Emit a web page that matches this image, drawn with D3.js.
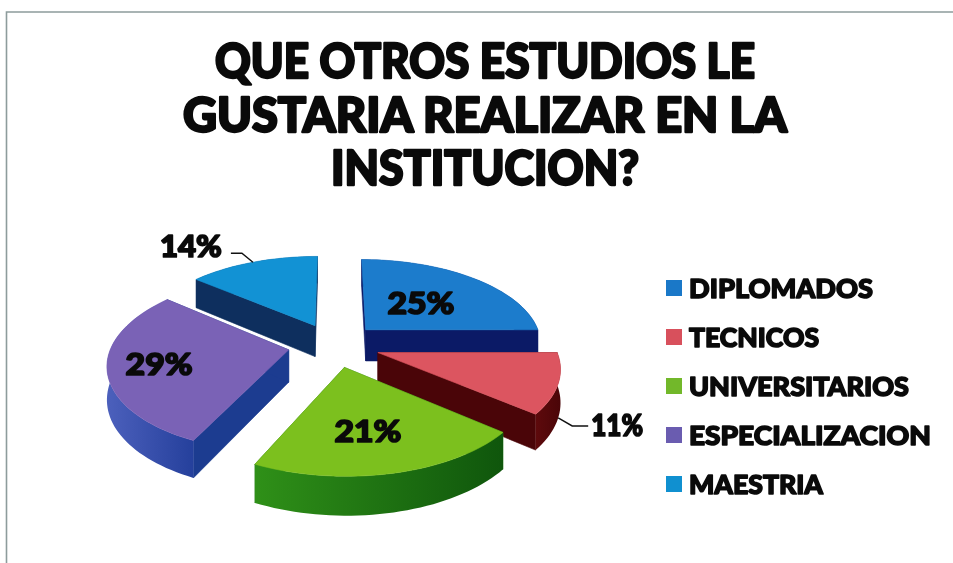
<!DOCTYPE html>
<html>
<head>
<meta charset="utf-8">
<script src="https://cdn.jsdelivr.net/npm/d3@7"></script>
<style>
    html, body { margin: 0; padding: 0; background: #fff; }
    svg { display: block; filter: blur(0.45px); }
    text { font-family: Lato, "Open Sans", sans-serif; font-weight: 900; fill: #0a0a0a; stroke: #0a0a0a; stroke-linejoin: round; }
</style>
</head>
<body>
<script>
const titleLines = ["QUE OTROS ESTUDIOS LE", "GUSTARIA REALIZAR EN LA", "INSTITUCION?"];
const categories = ["DIPLOMADOS", "TECNICOS", "UNIVERSITARIOS", "ESPECIALIZACION", "MAESTRIA"];
const values = [25, 11, 21, 29, 14];
const topColors = ["#1c7ccc", "#dc5560", "#7cc01e", "#7a62b6", "#1292d4"];
const legendColors = ["#1a78c8", "#d8505c", "#72b82a", "#6a5cb0", "#1090d0"];
const cutColors = ["#0b1a66", "#4a0508", "#1f7a14", "#1c3c90", "#0e2f5e"];
const outerFrom = ["#0b1a66", "#5e0a0c", "#2f9018", "#4c60bc", "#0e2f5e"];
const outerTo = ["#0b1a66", "#4a0508", "#0f560c", "#25409c", "#0e2f5e"];

const width = 953, height = 563;
const svg = d3.select("body").append("svg").attr("width", width).attr("height", height);
const defs = svg.append("defs");

// page frame of the scanned sheet: only top and left edges show
svg.append("path")
    .attr("d", "M6.5," + height + "V12H" + width)
    .attr("fill", "none").attr("stroke", "#8d9c9c").attr("stroke-width", 1.6);

function fitText(sel, w) {
    return sel.attr("textLength", w).attr("lengthAdjust", "spacingAndGlyphs");
}

// title
const titleWidths = [540, 604, 308];
const titleY = d3.scalePoint().domain(d3.range(3)).range([78, 185]);
svg.selectAll("text.title").data(titleLines).join("text")
    .attr("class", "title")
    .attr("x", 485).attr("y", (d, i) => titleY(i))
    .attr("text-anchor", "middle")
    .attr("font-size", 47).attr("stroke-width", 2.4)
    .text(d => d)
    .each(function (d, i) { fitText(d3.select(this), titleWidths[i]); });

// pie in plane coordinates, projected with a small perspective
const cx = 334, cy = 345, rx = 177, ry = 85, persp = 0.15, depth = 32, explode = 0.26;
const pieData = d3.pie().sort(null)(values);
const midAngle = d => (d.startAngle + d.endAngle) / 2;

function planePoint(d, angle, r) {
    const m = midAngle(d);
    return [explode * Math.sin(m) + r * Math.sin(angle), -explode * Math.cos(m) - r * Math.cos(angle)];
}
function project(p, z) {
    const s = 1 / (1 - persp * p[1]);
    return [cx + rx * p[0] * s, cy + ry * p[1] * s + z * depth * s];
}

const line = d3.line();

function arcAngles(d) {
    const n = Math.max(8, Math.round((d.endAngle - d.startAngle) * 30));
    return d3.range(n + 1).map(i => d.startAngle + (d.endAngle - d.startAngle) * i / n);
}
function wall(a, b) {
    return line([project(a, 0), project(b, 0), project(b, 1), project(a, 1)]) + "Z";
}

// back slices first so the front ones cover them
const drawOrder = [4, 3, 0, 1, 2];
const slices = svg.selectAll("g.slice").data(drawOrder.map(i => pieData[i])).join("g").attr("class", "slice");

slices.each(function (d) {
    const g = d3.select(this), i = d.index;
    const apex = planePoint(d, 0, 0);
    const rim = arcAngles(d).map(a => planePoint(d, a, 1));
    const rimTop = rim.map(p => project(p, 0));
    const rimBottom = rim.map(p => project(p, 1));

    [rim[0], rim[rim.length - 1]].forEach(p => {
        g.append("path").attr("d", wall(apex, p))
            .attr("fill", cutColors[i]).attr("stroke", cutColors[i]).attr("stroke-width", 0.6);
    });

    // outer wall, lighter on its left end
    const grad = defs.append("linearGradient").attr("id", "outer" + i)
        .attr("gradientUnits", "userSpaceOnUse")
        .attr("x1", d3.min(rimTop, p => p[0])).attr("x2", d3.max(rimTop, p => p[0]))
        .attr("y1", 0).attr("y2", 0);
    grad.append("stop").attr("offset", 0).attr("stop-color", outerFrom[i]);
    grad.append("stop").attr("offset", 1).attr("stop-color", outerTo[i]);
    g.append("path")
        .attr("d", line(rimTop.concat(rimBottom.slice().reverse())) + "Z")
        .attr("fill", "url(#outer" + i + ")");

    g.append("path")
        .attr("d", line([project(apex, 0), ...rimTop]) + "Z")
        .attr("fill", topColors[i]).attr("stroke", topColors[i]).attr("stroke-width", 0.6);
});

// labels sit on their slice, or outside with a leader
const labelRadius = [0.49, null, 0.64, 0.72, null];
const labelWidth = 64;
pieData.forEach((d, i) => {
    if (labelRadius[i] === null) return;
    const pos = project(planePoint(d, midAngle(d), labelRadius[i]), 0);
    svg.append("text").attr("x", pos[0] - (i === 2 ? 6 : 0)).attr("y", pos[1] + 11)
        .attr("text-anchor", "middle").attr("font-size", 30).attr("stroke-width", 1.7)
        .text(values[i] + "%").call(fitText, labelWidth + 3);
});

const rimMaeStart = project(planePoint(pieData[4], midAngle(pieData[4]), 1), 0);
const rimTecStart = project(planePoint(pieData[1], midAngle(pieData[1]), 1), 1);
const leaders = [
    { from: rimMaeStart, dx: [-11, -22], dy: [-9, -9], label: 4, tx: -31, ty: -5, anchor: "end", w: labelWidth - 2 },
    { from: rimTecStart, dx: [14, 30], dy: [8, 8], label: 1, tx: 33, ty: 18, anchor: "start", w: labelWidth - 12 }
];
leaders.forEach(l => {
    const pts = [l.from,
        [l.from[0] + l.dx[0], l.from[1] + l.dy[0]],
        [l.from[0] + l.dx[1], l.from[1] + l.dy[1]]];
    svg.append("path").attr("d", line(pts)).attr("fill", "none").attr("stroke", "#111").attr("stroke-width", 1.4);
    svg.append("text").attr("x", l.from[0] + l.tx).attr("y", l.from[1] + l.ty)
        .attr("text-anchor", l.anchor).attr("font-size", 30).attr("stroke-width", 1.7)
        .text(values[l.label] + "%").call(fitText, l.w);
});

// legend
const legendWidths = [184, 130, 220, 242, 134];
const legendY = d3.scalePoint().domain(categories).range([288, 484]);
const legend = svg.selectAll("g.legend").data(categories).join("g")
    .attr("class", "legend")
    .attr("transform", d => "translate(666," + legendY(d) + ")");
legend.append("rect").attr("y", -8).attr("width", 16).attr("height", 16)
    .attr("fill", (d, i) => legendColors[i]);
legend.append("text").attr("x", 23).attr("y", 10)
    .attr("font-size", 26).attr("stroke-width", 1.5)
    .text(d => d)
    .each(function (d, i) { fitText(d3.select(this), legendWidths[i]); });
</script>
</body>
</html>
